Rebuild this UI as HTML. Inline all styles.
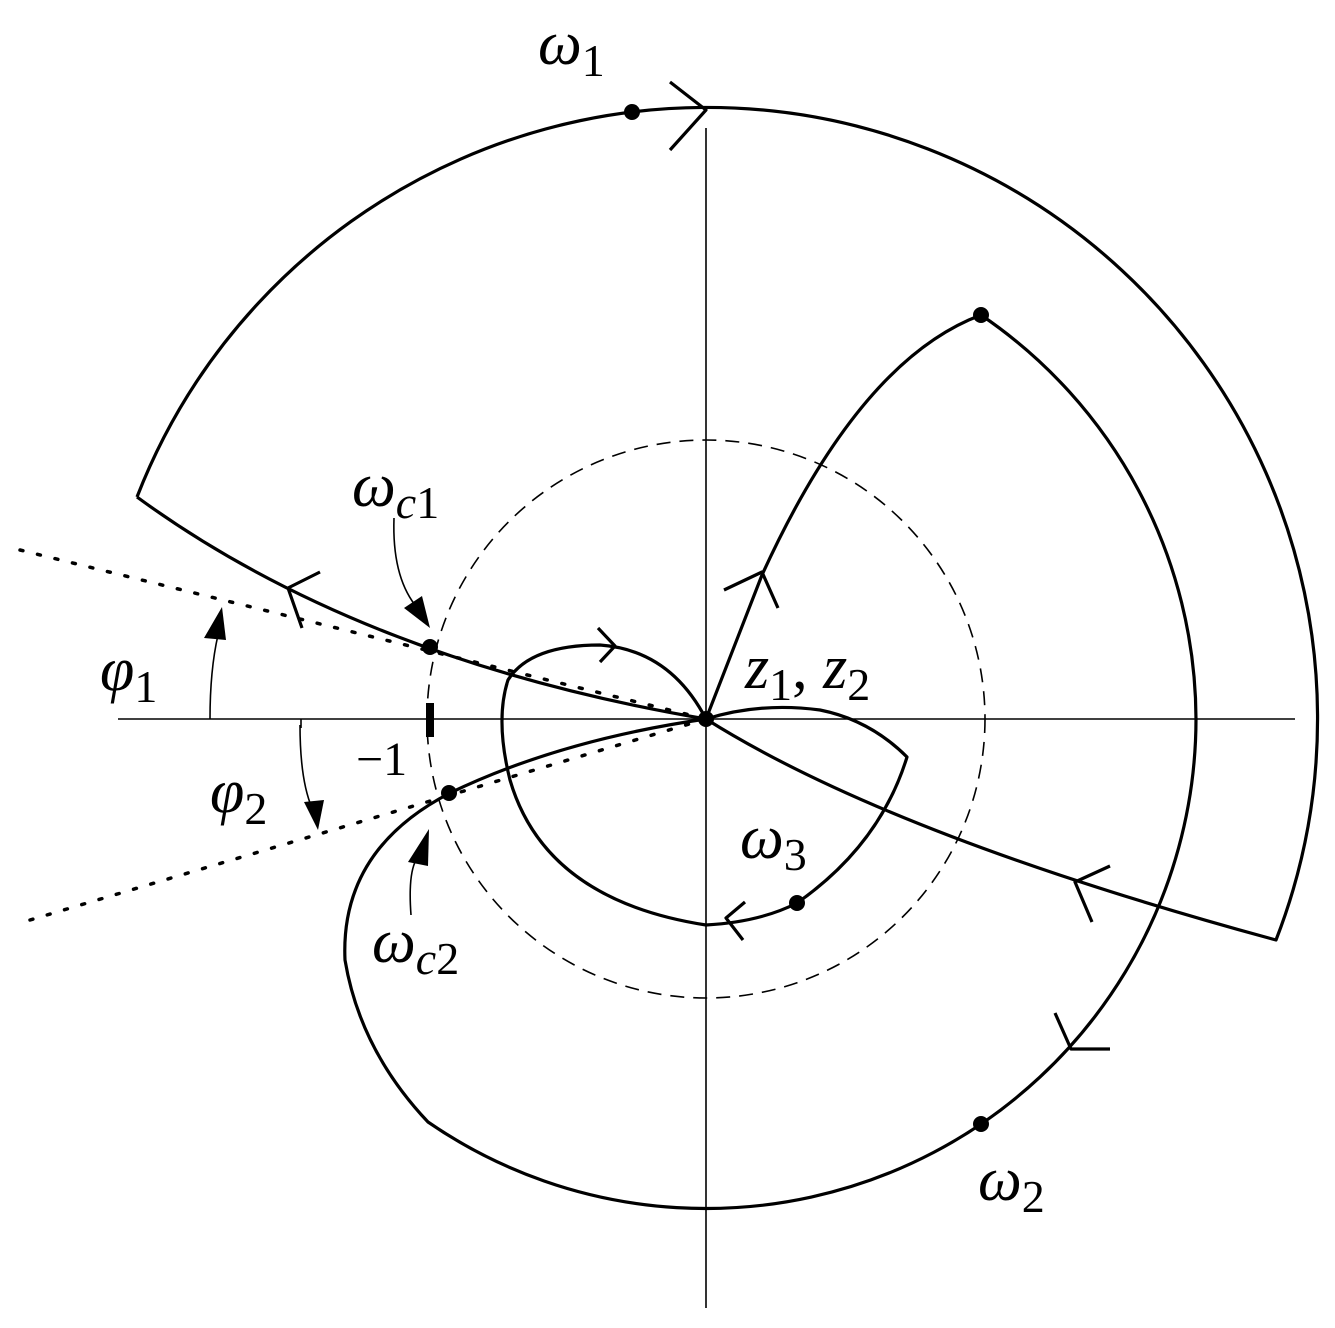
<!DOCTYPE html>
<html><head><meta charset="utf-8"><style>
html,body{margin:0;padding:0;background:#fff;}
svg{display:block;}
text{font-family:"Liberation Serif",serif;fill:#000;}
.s{fill:none;stroke:#000;stroke-width:3.2;stroke-linejoin:round;}
.t{fill:none;stroke:#000;stroke-width:1.6;}
.i{font-style:italic;}
.n{font-style:normal;}
</style></head><body>
<svg width="1335" height="1328" viewBox="0 0 1335 1328" xmlns="http://www.w3.org/2000/svg">
<line class="t" x1="118" y1="719" x2="1295" y2="719"/>
<line class="t" x1="706" y1="128" x2="706" y2="1308"/>
<line class="t" x1="301" y1="719" x2="301" y2="728"/>
<circle cx="706" cy="719" r="279" fill="none" stroke="#000" stroke-width="1.6" stroke-dasharray="14,9"/>
<line x1="20" y1="550" x2="706" y2="719" stroke="#000" stroke-width="3.5" stroke-dasharray="3,15" stroke-linecap="round"/>
<line x1="30" y1="920" x2="706" y2="719" stroke="#000" stroke-width="3.5" stroke-dasharray="3,15" stroke-linecap="round"/>
<path class="s" d="M137,497 A611,611 0 1 1 1276,940 Q890,835 706,719 Q360,660 137,497"/>
<path class="s" d="M706,719 L762,575 Q860,360 981,315 A490,490 0 0 1 1196,719 A490,490 0 0 1 428,1122 Q360,1050 345,960 Q340,850 450,793 Q560,740 706,719"/>
<path class="s" d="M706,719 Q670,650 600,645 Q530,645 508,680 Q495,720 510,780 Q545,900 706,925 Q760,922 797,903 Q880,845 907,757 Q870,720 820,710 Q760,702 706,719"/>
<path class="s" d="M670,82 L706,110 L670,150"/>
<path class="s" d="M320,572 L288,588 L302,628"/>
<path class="s" d="M598,628 L615,646 L600,662"/>
<path class="s" d="M724,590 L762,572 L778,608"/>
<path class="s" d="M1110,866 L1075,882 L1092,922"/>
<path class="s" d="M1055,1013 L1071,1049 L1110,1049"/>
<path class="s" d="M745,902 L726,918 L743,940"/>
<g fill="#000">
<circle cx="632" cy="112" r="8"/>
<circle cx="981" cy="315" r="8"/>
<circle cx="981" cy="1124" r="8"/>
<circle cx="430" cy="647" r="8"/>
<circle cx="449" cy="793" r="8"/>
<circle cx="797" cy="903" r="8"/>
<circle cx="706" cy="719" r="8"/>
</g>
<rect x="426" y="703" width="8" height="34" fill="#000"/>
<path class="t" d="M210,719 Q210,670 218,635"/>
<polygon points="222,607 204,638 226,640" fill="#000"/>
<path class="t" d="M300,725 Q300,780 312,808"/>
<polygon points="318,830 304,802 324,800" fill="#000"/>
<path class="t" d="M394,518 Q392,575 415,605"/>
<polygon points="430,628 404,608 422,596" fill="#000"/>
<path class="t" d="M411,915 Q408,875 416,860"/>
<polygon points="429,829 408,862 428,866" fill="#000"/>
<text x="538" y="64" font-size="62" class="i">ω<tspan class="n" font-size="46" dy="12">1</tspan></text>
<text x="352" y="506" font-size="62" class="i">ω<tspan font-size="46" dy="12">c</tspan><tspan class="n" font-size="46">1</tspan></text>
<text x="100" y="690" font-size="62" class="i">φ<tspan class="n" font-size="46" dy="12">1</tspan></text>
<text x="210" y="812" font-size="62" class="i">φ<tspan class="n" font-size="46" dy="12">2</tspan></text>
<text x="356" y="775" font-size="48" class="n">−1</text>
<text x="745" y="688" font-size="62" class="i">z<tspan class="n" font-size="46" dy="12">1</tspan><tspan class="n" dy="-12">, </tspan>z<tspan class="n" font-size="46" dy="12">2</tspan></text>
<text x="740" y="858" font-size="62" class="i">ω<tspan class="n" font-size="46" dy="12">3</tspan></text>
<text x="372" y="962" font-size="62" class="i">ω<tspan font-size="46" dy="12">c</tspan><tspan class="n" font-size="46">2</tspan></text>
<text x="978" y="1200" font-size="62" class="i">ω<tspan class="n" font-size="46" dy="12">2</tspan></text>
</svg>
</body></html>
